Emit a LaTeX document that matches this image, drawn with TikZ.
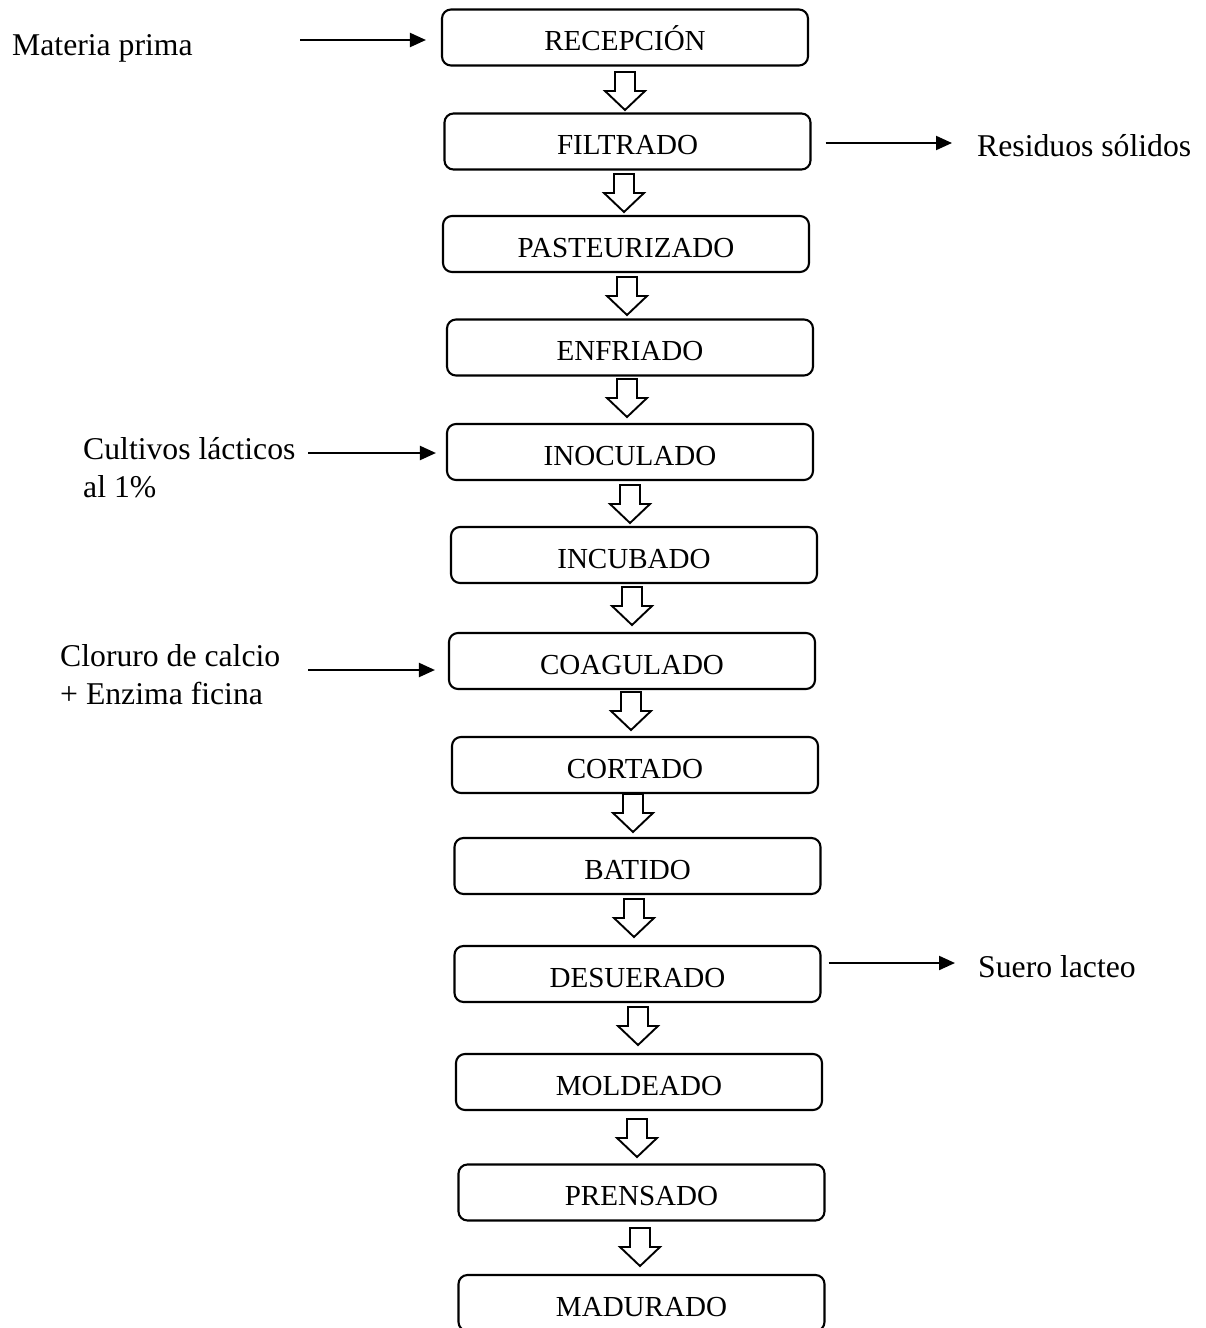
\documentclass[tikz,border=0pt]{standalone}
\usepackage{fontspec}
\setmainfont{Liberation Serif}
\usetikzlibrary{arrows.meta}
\tikzset{
  stepbox/.style={draw, line width=2.1pt, rounded corners=9pt, minimum width=366pt,
    minimum height=56pt, inner sep=0pt, font=\fontsize{29.05}{34}\selectfont,
    text height=26pt, text depth=0pt},
  sidelabel/.style={inner sep=0pt, font=\fontsize{31.7}{37.5}\selectfont, align=left},
  sidearr/.style={line width=2.1pt, -{Triangle[length=16pt,width=14pt]}},
  fatline/.style={draw, line width=1.9pt, fill=white, line join=miter}
}
\begin{document}
\begin{tikzpicture}[x=1pt,y=-1pt]
\useasboundingbox[fill=white] (0,0) rectangle (1205,1328);
% process boxes
\node[stepbox] (rec)  at (625,37.5)   {RECEPCIÓN};
\node[stepbox] (fil)  at (627.5,141.5) {FILTRADO};
\node[stepbox] (past) at (626,244)    {PASTEURIZADO};
\node[stepbox] (enf)  at (630,347.5)  {ENFRIADO};
\node[stepbox] (inoc) at (630,452)    {INOCULADO};
\node[stepbox] (inc)  at (634,555)    {INCUBADO};
\node[stepbox] (coag) at (632,661)    {COAGULADO};
\node[stepbox] (cort) at (635,765)    {CORTADO};
\node[stepbox] (bat)  at (637.5,866)  {BATIDO};
\node[stepbox] (des)  at (637.5,974)  {DESUERADO};
\node[stepbox] (mold) at (639,1082)   {MOLDEADO};
\node[stepbox] (pren) at (641.5,1192.5) {PRENSADO};
\node[stepbox] (mad)  at (641.5,1303) {MADURADO};
% hollow block arrows between steps
\foreach \x/\t in {625/72, 624/174, 627/277, 627/379, 630/485, 632/587,
                   631/692, 633/794, 634/899, 638/1007, 637/1119, 640/1228} {
  \path[fatline] (\x-10,\t) -- (\x+10,\t) -- (\x+10,\t+19) -- (\x+20,\t+19)
     -- (\x,\t+38) -- (\x-20,\t+19) -- (\x-10,\t+19) -- cycle;
}
% side labels (base anchor = baseline of the last line)
\node[sidelabel, anchor=base west] (mp)  at (12,55)  {Materia prima};
\node[sidelabel, anchor=base west] (res) at (977,156) {Residuos sólidos};
\node[sidelabel, anchor=base west] (cul) at (83,497) {Cultivos lácticos\\al 1\%};
\node[sidelabel, anchor=base west] (clo) at (60,704) {Cloruro de calcio\\+ Enzima ficina};
\node[sidelabel, anchor=base west] (sue) at (978,977) {Suero lacteo};
% side arrows
\coordinate (mpA)  at (300,40);
\coordinate (resB) at (952,143);
\coordinate (culA) at (308,453);
\coordinate (cloA) at (308,670);
\coordinate (sueB) at (955,963);
\draw[sidearr, shorten >=15pt] (mpA) -- (mpA -| rec.west);
\draw[sidearr, shorten <=14pt] (fil.east |- resB) -- (resB);
\draw[sidearr, shorten >=10pt] (culA) -- (culA -| inoc.west);
\draw[sidearr, shorten >=13pt] (cloA) -- (cloA -| coag.west);
\draw[sidearr, shorten <=7pt] (des.east |- sueB) -- (sueB);
\end{tikzpicture}
\end{document}
